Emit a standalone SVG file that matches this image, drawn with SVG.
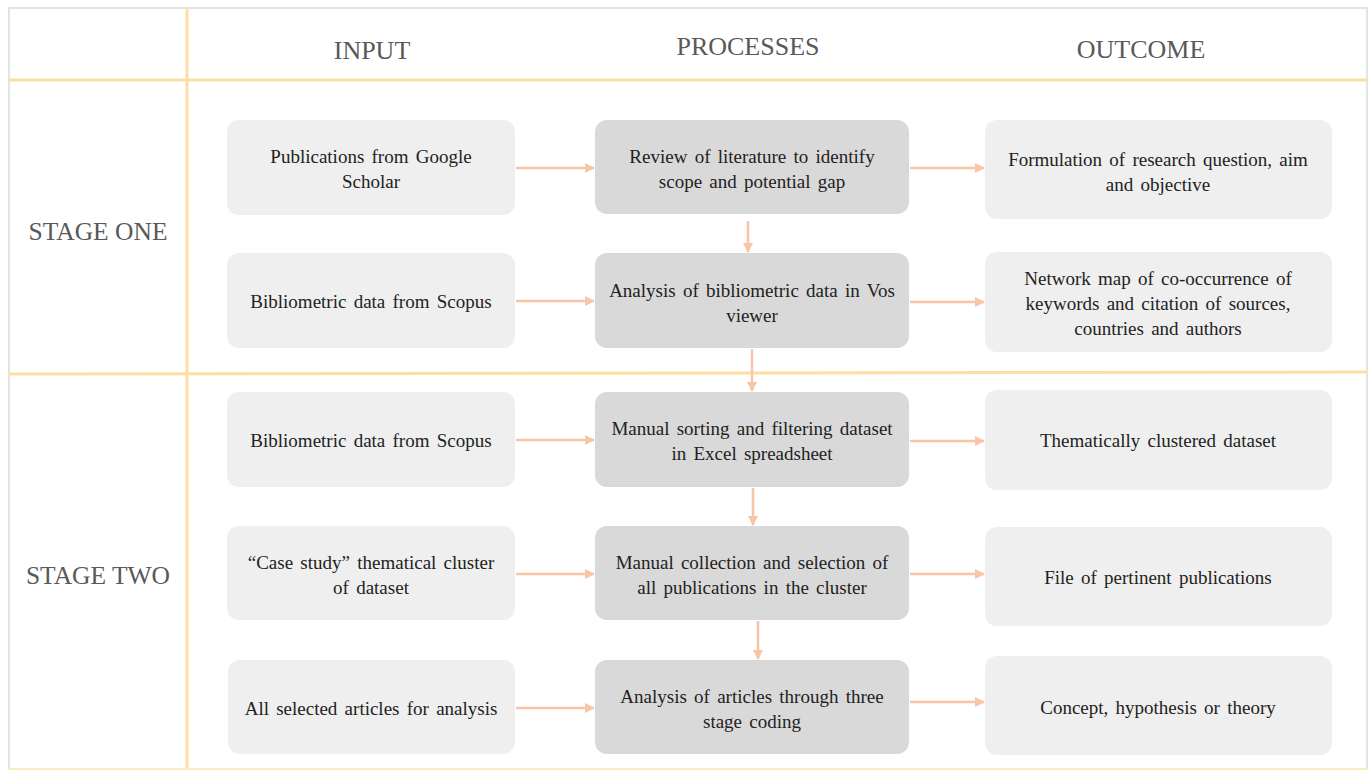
<svg xmlns="http://www.w3.org/2000/svg" width="1371" height="772" viewBox="0 0 1371 772">
<defs>
<style>
.lbl{font-family:'Liberation Serif','Times New Roman',serif;font-size:19px;fill:#222222;text-anchor:middle;word-spacing:2.5px}
.hdr{font-family:'Liberation Serif','Times New Roman',serif;font-size:26px;fill:#595959;text-anchor:middle}
.stg{font-family:'Liberation Serif','Times New Roman',serif;font-size:25.5px;fill:#595959;text-anchor:middle}
.lt{fill:#efefef}
.dk{fill:#d9d9d9}
.grid{stroke:#fddfa4;stroke-width:3;fill:none}
.ar{stroke:#f8c6a6;stroke-width:2.5;fill:none;marker-end:url(#ah)}
</style>
<marker id="ah" viewBox="0 0 10 10" refX="9" refY="5" markerWidth="4" markerHeight="4" orient="auto" markerUnits="strokeWidth">
<path d="M0,0 L10,5 L0,10 z" fill="#f8c6a6"/>
</marker>
</defs>
<rect x="0" y="0" width="1371" height="772" fill="#ffffff"/>
<rect x="9" y="8" width="1358" height="761" fill="none" stroke="#dcdcdc" stroke-width="1.5"/>
<g id="grid">
<line class="grid" x1="187" y1="9" x2="187" y2="770"/>
<line class="grid" x1="9" y1="80" x2="1367" y2="80"/>
<line class="grid" x1="9" y1="374" x2="1367" y2="372"/>
<line x1="9" y1="769" x2="1367" y2="769" stroke="#fdebc8" stroke-width="2"/>
</g>
<g id="headers">
<text class="hdr" x="372" y="59">INPUT</text>
<text class="hdr" x="748" y="55">PROCESSES</text>
<text class="hdr" x="1141" y="58">OUTCOME</text>
<text class="stg" x="98" y="240">STAGE ONE</text>
<text class="stg" x="98" y="584">STAGE TWO</text>
</g>
<g id="connectors">
<line class="ar" x1="516" y1="168" x2="594" y2="168"/>
<line class="ar" x1="910" y1="168" x2="984" y2="168"/>
<line class="ar" x1="516" y1="301" x2="594" y2="301"/>
<line class="ar" x1="910" y1="302" x2="984" y2="302"/>
<line class="ar" x1="516" y1="440" x2="594" y2="440"/>
<line class="ar" x1="910" y1="441" x2="984" y2="441"/>
<line class="ar" x1="516" y1="574" x2="594" y2="574"/>
<line class="ar" x1="910" y1="574" x2="984" y2="574"/>
<line class="ar" x1="516" y1="708" x2="594" y2="708"/>
<line class="ar" x1="910" y1="702" x2="984" y2="702"/>
<line class="ar" x1="748" y1="221" x2="748" y2="252"/>
<line class="ar" x1="752" y1="349" x2="752" y2="391"/>
<line class="ar" x1="753" y1="488" x2="753" y2="525"/>
<line class="ar" x1="758" y1="621" x2="758" y2="659"/>
</g>
<g id="nodes">
<g id="in1"><rect class="lt" x="227" y="120" width="288" height="95" rx="12"/><text class="lbl" x="371" y="163">Publications  from Google</text><text class="lbl" x="371" y="188">Scholar</text></g>
<g id="pr1"><rect class="dk" x="595" y="120" width="314" height="94" rx="12"/><text class="lbl" x="752" y="163">Review of literature to identify</text><text class="lbl" x="752" y="188">scope and potential gap</text></g>
<g id="out1"><rect class="lt" x="985" y="120" width="347" height="99" rx="12"/><text class="lbl" x="1158" y="166">Formulation of research question, aim</text><text class="lbl" x="1158" y="191">and objective</text></g>
<g id="in2"><rect class="lt" x="227" y="253" width="288" height="95" rx="12"/><text class="lbl" x="371" y="308">Bibliometric data  from Scopus</text></g>
<g id="pr2"><rect class="dk" x="595" y="253" width="314" height="95" rx="12"/><text class="lbl" x="752" y="297">Analysis of bibliometric data in Vos</text><text class="lbl" x="752" y="322">viewer</text></g>
<g id="out2"><rect class="lt" x="985" y="252" width="347" height="100" rx="12"/><text class="lbl" x="1158" y="285">Network map of co-occurrence of</text><text class="lbl" x="1158" y="310">keywords and citation of sources,</text><text class="lbl" x="1158" y="335">countries and authors</text></g>
<g id="in3"><rect class="lt" x="227" y="392" width="288" height="95" rx="12"/><text class="lbl" x="371" y="447">Bibliometric data from Scopus</text></g>
<g id="pr3"><rect class="dk" x="595" y="392" width="314" height="95" rx="12"/><text class="lbl" x="752" y="435">Manual sorting and filtering dataset</text><text class="lbl" x="752" y="460">in Excel spreadsheet</text></g>
<g id="out3"><rect class="lt" x="985" y="390" width="347" height="100" rx="12"/><text class="lbl" x="1158" y="447">Thematically clustered dataset</text></g>
<g id="in4"><rect class="lt" x="227" y="526" width="288" height="94" rx="12"/><text class="lbl" x="371" y="569">“Case study” thematical cluster</text><text class="lbl" x="371" y="594">of dataset</text></g>
<g id="pr4"><rect class="dk" x="595" y="526" width="314" height="94" rx="12"/><text class="lbl" x="752" y="569">Manual collection and selection of</text><text class="lbl" x="752" y="594">all  publications in the cluster</text></g>
<g id="out4"><rect class="lt" x="985" y="527" width="347" height="99" rx="12"/><text class="lbl" x="1158" y="584">File of pertinent publications</text></g>
<g id="in5"><rect class="lt" x="228" y="660" width="287" height="94" rx="12"/><text class="lbl" x="371" y="715">All selected articles for analysis</text></g>
<g id="pr5"><rect class="dk" x="595" y="660" width="314" height="94" rx="12"/><text class="lbl" x="752" y="703">Analysis of articles through three</text><text class="lbl" x="752" y="728">stage coding</text></g>
<g id="out5"><rect class="lt" x="985" y="656" width="347" height="99" rx="12"/><text class="lbl" x="1158" y="714">Concept, hypothesis or theory</text></g>
</g>
</svg>
